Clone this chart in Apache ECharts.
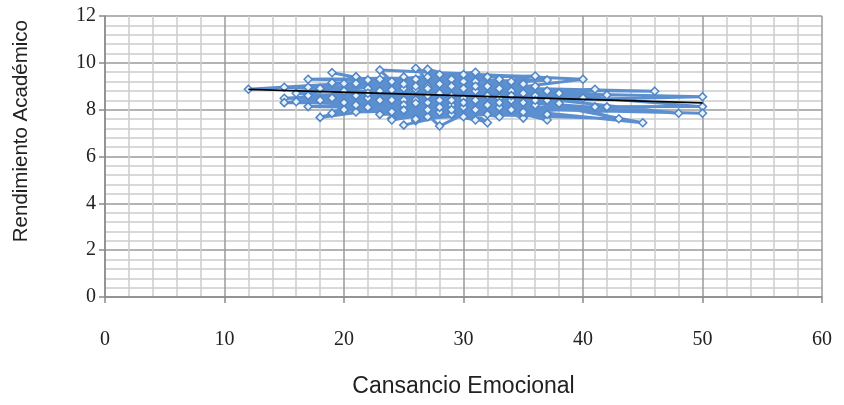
<!DOCTYPE html>
<html>
<head>
<meta charset="utf-8">
<script src="https://cdn.jsdelivr.net/npm/echarts@6/dist/echarts.min.js"></script>
<style>html,body{margin:0;padding:0;background:#fff}#c{width:844px;height:405px}</style>
</head>
<body>
<div id="c"></div>
<script>
// Cansancio Emocional (x) vs Rendimiento Académico (y), in data order
var xs = [12,26,31,19,28,35,22,46,27,15,33,24,30,17,36,25,21,32,29,40,
          23,28,34,18,26,37,20,31,27,50,24,30,16,33,26,41,22,29,35,25,
          19,32,27,38,21,31,28,45,26,34,15,30,23,36,25,37,20,29,42,24,
          33,17,28,31,22,48,27,35,25,32,18,30,26,37,23,29,41,21,34,24,
          31,19,36,27,33,20,43,28,25,32,16,30,26,35,22,50,29,24,37,21,
          31,27,34,17,40,28,33,23,36,25,30,19,32,26,42,27,35,20,29,38,
          24,31,15,33,23,37,28,50,21,32,18,30,26,34,22,17,36,25,29,27];
var ys = [8.87,9.30,8.40,9.58,8.70,8.30,8.90,8.79,9.00,8.96,8.50,7.63,9.20,9.30,9.44,8.41,9.41,7.44,8.60,9.30,
          9.69,7.30,8.80,7.67,8.87,9.27,9.12,9.60,8.30,8.55,8.84,8.50,8.34,9.30,7.53,8.87,8.50,9.30,7.64,9.40,
          7.85,9.00,9.73,8.27,8.60,7.56,9.10,7.44,8.41,8.40,8.49,8.90,8.40,8.60,7.34,8.80,8.30,8.20,8.63,9.20,
          7.70,8.96,8.40,9.20,9.27,7.85,8.60,9.10,8.91,8.20,8.90,7.70,9.77,7.56,9.30,7.80,8.12,7.90,9.20,8.41,
          8.80,9.15,8.20,7.70,8.90,8.00,7.61,9.50,8.20,9.40,8.70,8.10,8.27,8.70,8.10,8.13,9.00,7.91,8.40,9.12,
          8.00,9.40,8.00,8.13,8.50,7.90,8.10,8.80,9.00,7.98,9.50,8.50,8.60,7.60,8.12,8.00,7.90,8.80,8.40,8.70,
          7.56,9.00,8.30,8.30,7.80,7.80,8.10,7.85,8.20,7.80,8.40,8.30,9.00,8.60,8.70,8.60,8.40,9.10,8.00,8.90];
// linear trend line end points
var trendX = [12, 50];
var trendY = [8.87, 8.29];

var xTicks = [0, 10, 20, 30, 40, 50, 60];
var yTicks = [0, 2, 4, 6, 8, 10, 12];

var pts = xs.map(function (x, i) { return [x, ys[i]]; });
var trend = trendX.map(function (x, i) { return [x, trendY[i]]; });

var chart = echarts.init(document.getElementById('c'), null, {renderer: 'canvas'});
chart.setOption({
  animation: false,
  backgroundColor: '#ffffff',
  grid: {left: 105, right: 22, top: 16, bottom: 108, containLabel: false},
  xAxis: {
    type: 'value', min: xTicks[0], max: xTicks[xTicks.length - 1], interval: 10,
    name: 'Cansancio Emocional', nameLocation: 'middle', nameGap: 78,
    nameTextStyle: {fontFamily: 'Liberation Sans', fontSize: 23, color: '#222'},
    axisLine: {show: true, lineStyle: {color: '#8a8a8a', width: 1.5}},
    axisTick: {show: true, length: 6, lineStyle: {color: '#8a8a8a', width: 1.5}},
    minorTick: {show: false, splitNumber: 5},
    axisLabel: {fontFamily: 'Liberation Serif', fontSize: 20, color: '#222', margin: 33},
    splitLine: {show: true, lineStyle: {color: '#9a9a9a', width: 1.5}},
    minorSplitLine: {show: true, lineStyle: {color: '#cdcdcd', width: 1.5}}
  },
  yAxis: {
    type: 'value', min: yTicks[0], max: yTicks[yTicks.length - 1], interval: 2,
    axisLine: {show: true, lineStyle: {color: '#8a8a8a', width: 1.5}},
    axisTick: {show: true, length: 6, lineStyle: {color: '#8a8a8a', width: 1.5}},
    minorTick: {show: false, splitNumber: 5},
    axisLabel: {fontFamily: 'Liberation Serif', fontSize: 20, color: '#222', margin: 9},
    splitLine: {show: true, lineStyle: {color: '#9a9a9a', width: 1.5}},
    minorSplitLine: {show: true, lineStyle: {color: '#cdcdcd', width: 1.5}}
  },
  graphic: [{
    type: 'text', left: 11, top: 20, rotation: Math.PI / 2,
    style: {text: 'Rendimiento Académico', fontFamily: 'Liberation Sans', fontSize: 20.5, fill: '#222'}
  }],
  series: [{
    type: 'line', data: pts, symbol: 'diamond', symbolSize: 8, showSymbol: true,
    lineStyle: {color: '#5b8fd0', width: 3},
    itemStyle: {color: '#e8f0fa', borderColor: '#4f85c6', borderWidth: 1.5},
    z: 2
  }, {
    type: 'line', data: trend, symbol: 'none',
    lineStyle: {color: '#000000', width: 1.8},
    z: 5
  }]
});
</script>
</body>
</html>
